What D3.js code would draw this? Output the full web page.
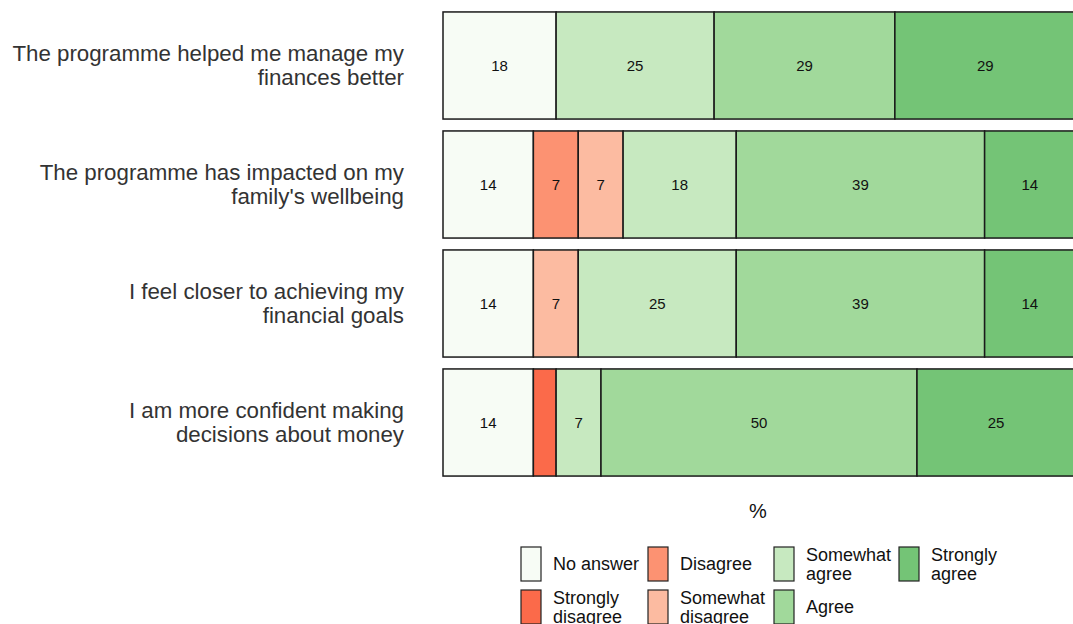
<!DOCTYPE html>
<html><head><meta charset="utf-8">
<script src="https://cdn.jsdelivr.net/npm/d3@7"></script>
<style>body{margin:0;background:#fff;overflow:hidden}svg{display:block}</style>
</head><body>
<script>
const categories = [
  "The programme helped me manage my|finances better",
  "The programme has impacted on my|family's wellbeing",
  "I feel closer to achieving my|financial goals",
  "I am more confident making|decisions about money"
];
const levels = ["No answer","Strongly disagree","Disagree","Somewhat disagree","Somewhat agree","Agree","Strongly agree"];
const colors = ["#f7fcf5","#fb6a4a","#fc9272","#fcbba1","#c7e9c0","#a1d99b","#74c476"];
const noAnswer        = [17.9, 14.3, 14.3, 14.3];
const stronglyDisagree= [0, 0, 0, 3.6];
const disagree        = [0, 7.1, 0, 0];
const somewhatDisagree= [0, 7.1, 7.1, 0];
const somewhatAgree   = [25.0, 17.9, 25.0, 7.1];
const agree           = [28.6, 39.3, 39.3, 50.0];
const stronglyAgree   = [28.6, 14.3, 14.3, 25.0];
const series = [noAnswer, stronglyDisagree, disagree, somewhatDisagree, somewhatAgree, agree, stronglyAgree];
const legendLabels = ["No answer","Strongly|disagree","Disagree","Somewhat|disagree","Somewhat|agree","Agree","Strongly|agree"];

const W = 1073, H = 624;
const svg = d3.select("body").append("svg").attr("width", W).attr("height", H);
const x = d3.scaleLinear().domain([0,100]).range([443, 1075]);
const y = d3.scaleBand().domain(categories).range([6, 482]).paddingInner(0.1).paddingOuter(0.05);

categories.forEach((c, i) => {
  let acc = 0;
  series.forEach((s, k) => {
    const v = s[i];
    if (v <= 0) return;
    const x0 = x(acc), x1 = x(acc + v);
    svg.append("rect").attr("x", x0).attr("y", y(c)).attr("width", x1 - x0).attr("height", y.bandwidth())
      .attr("fill", colors[k]).attr("stroke", "#1a1a1a").attr("stroke-width", 1.5);
    if (v >= 5) {
      svg.append("text").attr("x", (x0 + x1) / 2).attr("y", y(c) + y.bandwidth() / 2)
        .attr("text-anchor", "middle").attr("dominant-baseline", "central")
        .attr("font-family", "Liberation Sans, Arial, sans-serif").attr("font-size", 15).attr("fill", "#111")
        .text(Math.round(v));
    }
    acc += v;
  });
  const lines = c.split("|");
  const cy = y(c) + y.bandwidth() / 2;
  lines.forEach((ln, j) => {
    svg.append("text").attr("x", 404).attr("y", cy + (j - (lines.length - 1) / 2) * 24)
      .attr("text-anchor", "end").attr("dominant-baseline", "central")
      .attr("font-family", "Liberation Sans, Arial, sans-serif").attr("font-size", 22.3).attr("fill", "#333")
      .text(ln);
  });
});

svg.append("text").attr("x", 758).attr("y", 511).attr("text-anchor", "middle").attr("dominant-baseline", "central")
  .attr("font-family", "Liberation Sans, Arial, sans-serif").attr("font-size", 20).attr("fill", "#111").text("%");

const colX = [521, 648, 774, 899];
const rowY = [547, 590];
legendLabels.forEach((lab, k) => {
  const col = Math.floor(k / 2), row = k % 2;
  const kx = colX[col], ky = rowY[row];
  svg.append("rect").attr("x", kx).attr("y", ky).attr("width", 20).attr("height", 34)
    .attr("fill", colors[k]).attr("stroke", "#222").attr("stroke-width", 1.2);
  const lines = lab.split("|");
  lines.forEach((ln, j) => {
    svg.append("text").attr("x", kx + 32).attr("y", ky + 17 + (j - (lines.length - 1) / 2) * 19)
      .attr("dominant-baseline", "central")
      .attr("font-family", "Liberation Sans, Arial, sans-serif").attr("font-size", 18).attr("fill", "#111")
      .text(ln);
  });
});
</script>
</body></html>
